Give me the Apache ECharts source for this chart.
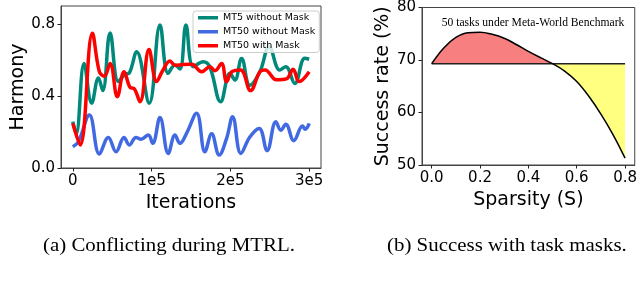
<!DOCTYPE html>
<html>
<head>
<meta charset="utf-8">
<script src="https://cdn.jsdelivr.net/npm/echarts@6/dist/echarts.min.js"></script>
<style>
html,body{margin:0;padding:0;background:#fff;}
#c{width:640px;height:284px;}
</style>
</head>
<body>
<div id="c"></div>
<script>
// ---- Left chart data (Harmony vs Iterations) ----
const mt5Iter = [0, 4200, 14300, 24000, 32500, 38000, 47300, 57800, 66000, 72000, 81000, 97000, 110600, 121000, 129700, 136000, 143600, 152900, 165500, 174000, 187600, 199400, 205700, 214200, 224700, 237400, 249200, 262700, 270300, 281700, 294400, 300000];
const mt5Vals = [0.257, 0.19, 0.58, 0.36, 0.50, 0.43, 0.75, 0.48, 0.52, 0.53, 0.646, 0.36, 0.795, 0.526, 0.572, 0.55, 0.795, 0.563, 0.59, 0.56, 0.368, 0.526, 0.489, 0.609, 0.46, 0.535, 0.674, 0.544, 0.563, 0.47, 0.61, 0.604];

const mt50Iter = [0, 7100, 21000, 33700, 45100, 54900, 65000, 71700, 80200, 86500, 95800, 101400, 110600, 121200, 129700, 136000, 144500, 157100, 167700, 176200, 185800, 195200, 202800, 213300, 224700, 236500, 246600, 257700, 264000, 270300, 280500, 291500, 295000, 300000];
const mt50Vals = [0.118, 0.146, 0.294, 0.078, 0.17, 0.09, 0.17, 0.128, 0.17, 0.16, 0.183, 0.137, 0.28, 0.081, 0.183, 0.137, 0.194, 0.304, 0.09, 0.19, 0.072, 0.165, 0.285, 0.081, 0.172, 0.22, 0.096, 0.257, 0.21, 0.243, 0.152, 0.233, 0.215, 0.248];

const maskIter = [0, 9300, 24900, 33700, 40000, 47300, 56500, 65000, 72600, 78000, 85300, 96700, 106400, 114000, 123300, 130000, 140000, 150800, 163500, 174000, 180300, 188800, 195200, 202000, 213000, 225600, 237400, 244000, 258500, 271000, 279600, 287200, 300000];
const maskVals = [0.248, 0.128, 0.748, 0.535, 0.51, 0.58, 0.396, 0.535, 0.448, 0.44, 0.368, 0.659, 0.48, 0.54, 0.594, 0.57, 0.575, 0.576, 0.535, 0.563, 0.54, 0.58, 0.48, 0.535, 0.545, 0.43, 0.535, 0.545, 0.49, 0.495, 0.548, 0.48, 0.535];

const leftXTicks = [0, 100000, 200000, 300000];
const leftXTickLabels = ['0', '1e5', '2e5', '3e5'];
const leftYTicks = [0, 0.4, 0.8];

// ---- Right chart data (Success rate vs Sparsity) ----
const sparsity = [0, 0.05, 0.1, 0.15, 0.2, 0.25, 0.3, 0.35, 0.4, 0.45, 0.5, 0.55, 0.6, 0.65, 0.7, 0.75, 0.8];
const successRate = [69.3, 72.3, 74.3, 75.2, 75.3, 74.9, 74.15, 72.95, 71.65, 70.45, 69.3, 67.9, 65.9, 63.1, 59.7, 55.8, 51.3];
const baseline = 69.3;
const crossSparsity = 0.5;
const rightXTicks = [0, 0.2, 0.4, 0.6, 0.8];
const rightYTicks = [50, 60, 70, 80];

const seriesNames = ['MT5 without Mask', 'MT50 without Mask', 'MT50 with Mask'];
const seriesColors = ['#00897b', '#4169e1', '#ff0000'];

function pairs(xs, ys) { return xs.map((x, i) => [x, ys[i]]); }

const curve = pairs(sparsity, successRate);
const abovePart = curve.filter(p => p[0] <= crossSparsity);
const belowPart = curve.filter(p => p[0] >= crossSparsity);
const baseLine = [[sparsity[0], baseline], [sparsity[sparsity.length - 1], baseline]];

const FONT = 'DejaVu Sans';
const tickLabel = {fontFamily: FONT, fontSize: 15, color: '#000'};
const axisLineStyle = {show: true, onZero: false, lineStyle: {color: '#444', width: 1}};
function ticks(vals) {
  return {show: true, inside: false, length: 3.5, customValues: vals, lineStyle: {color: '#222', width: 1}};
}

const chart = echarts.init(document.getElementById('c'), null, {renderer: 'canvas'});

const option = {
  animation: false,
  backgroundColor: '#fff',
  grid: [
    {left: 61, top: 6, right: 319, bottom: 116, show: true, borderColor: '#444', borderWidth: 1, backgroundColor: 'transparent', z: 0},
    {left: 422, top: 6, right: 2, bottom: 119, show: true, borderColor: '#444', borderWidth: 1, backgroundColor: 'transparent', z: 0}
  ],
  xAxis: [
    {
      type: 'value', gridIndex: 0, min: -15000, max: 315000, z: 10,
      name: 'Iterations', nameLocation: 'middle', nameGap: 25,
      nameTextStyle: {fontFamily: FONT, fontSize: 19, color: '#000'},
      axisLine: axisLineStyle, splitLine: {show: false},
      axisTick: ticks(leftXTicks),
      axisLabel: Object.assign({customValues: leftXTicks, margin: 6,
        formatter: v => leftXTickLabels[leftXTicks.indexOf(v)]}, tickLabel)
    },
    {
      type: 'value', gridIndex: 1, min: -0.04, max: 0.84, z: 10,
      name: 'Sparsity (S)', nameLocation: 'middle', nameGap: 25,
      nameTextStyle: {fontFamily: FONT, fontSize: 19, color: '#000'},
      axisLine: axisLineStyle, splitLine: {show: false},
      axisTick: ticks(rightXTicks),
      axisLabel: Object.assign({customValues: rightXTicks, margin: 6,
        formatter: v => v.toFixed(1)}, tickLabel)
    }
  ],
  yAxis: [
    {
      type: 'value', gridIndex: 0, min: 0, max: 0.9, z: 10,
      name: 'Harmony', nameLocation: 'middle', nameGap: 33,
      nameTextStyle: {fontFamily: FONT, fontSize: 19, color: '#000'},
      axisLine: axisLineStyle, splitLine: {show: false},
      axisTick: ticks(leftYTicks),
      axisLabel: Object.assign({customValues: leftYTicks, margin: 6,
        formatter: v => v.toFixed(1)}, tickLabel)
    },
    {
      type: 'value', gridIndex: 1, min: 50, max: 80, interval: 10, z: 10,
      name: 'Success rate (%)', nameLocation: 'middle', nameGap: 28,
      nameTextStyle: {fontFamily: FONT, fontSize: 19, color: '#000'},
      axisLine: axisLineStyle, splitLine: {show: false},
      axisTick: ticks(rightYTicks),
      axisLabel: Object.assign({customValues: rightYTicks, margin: 6}, tickLabel)
    }
  ],
  legend: {
    orient: 'vertical', left: 193, top: 11,
    data: seriesNames,
    icon: 'rect', itemWidth: 20, itemHeight: 3.5, itemGap: 2.5,
    padding: [1, 4, 1, 5],
    backgroundColor: 'rgba(255,255,255,0.8)', borderColor: '#ccc', borderWidth: 1, borderRadius: 3,
    textStyle: {fontFamily: FONT, fontSize: 9.5, color: '#000', lineHeight: 11.5}
  },
  title: {
    text: '50 tasks under Meta-World Benchmark',
    left: 528, top: 12, textAlign: 'center',
    textStyle: {fontFamily: 'Liberation Serif', fontSize: 11.6, fontWeight: 'normal', color: '#000'}
  },
  graphic: [
    {type: 'text', left: 43, top: 237, style: {text: '(a) Conflicting during MTRL.', font: '19px "Liberation Serif"', fill: '#000'}, scaleX: 1.1},
    {type: 'text', left: 387, top: 237, style: {text: '(b) Success with task masks.', font: '19px "Liberation Serif"', fill: '#000'}, scaleX: 1.1}
  ],
  series: [
    {name: seriesNames[0], type: 'line', xAxisIndex: 0, yAxisIndex: 0, data: pairs(mt5Iter, mt5Vals), smooth: 0.4, showSymbol: false, lineStyle: {width: 3.5, color: seriesColors[0]}, itemStyle: {color: seriesColors[0]}},
    {name: seriesNames[1], type: 'line', xAxisIndex: 0, yAxisIndex: 0, data: pairs(mt50Iter, mt50Vals), smooth: 0.4, showSymbol: false, lineStyle: {width: 3.5, color: seriesColors[1]}, itemStyle: {color: seriesColors[1]}},
    {name: seriesNames[2], type: 'line', xAxisIndex: 0, yAxisIndex: 0, data: pairs(maskIter, maskVals), smooth: 0.4, showSymbol: false, lineStyle: {width: 3.5, color: seriesColors[2]}, itemStyle: {color: seriesColors[2]}},
    {name: 'above', type: 'line', xAxisIndex: 1, yAxisIndex: 1, data: abovePart, smooth: 0.4, showSymbol: false, lineStyle: {width: 0}, areaStyle: {origin: baseline, color: '#f87f7f', opacity: 1}, z: 1},
    {name: 'below', type: 'line', xAxisIndex: 1, yAxisIndex: 1, data: belowPart, smooth: 0.4, showSymbol: false, lineStyle: {width: 0}, areaStyle: {origin: baseline, color: '#ffff80', opacity: 1}, z: 1},
    {name: 'base', type: 'line', xAxisIndex: 1, yAxisIndex: 1, data: baseLine, showSymbol: false, lineStyle: {width: 1.5, color: '#222'}, z: 2},
    {name: 'curve', type: 'line', xAxisIndex: 1, yAxisIndex: 1, data: curve, smooth: 0.4, showSymbol: false, lineStyle: {width: 1.5, color: '#000'}, z: 3}
  ]
};
chart.setOption(option);
</script>
</body>
</html>
